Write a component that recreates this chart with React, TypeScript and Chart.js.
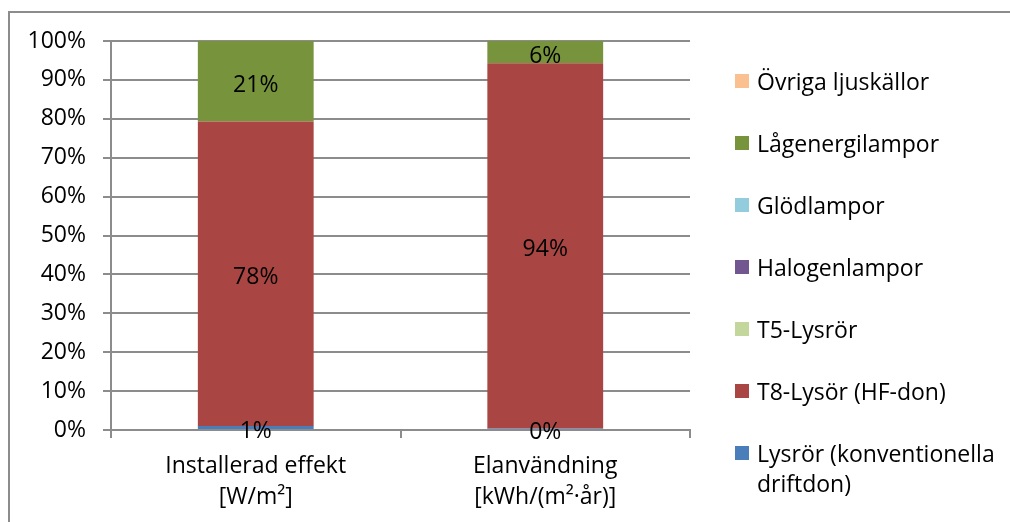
import React, { useEffect, useRef } from 'react';
import { Chart, registerables } from 'chart.js';

Chart.register(...registerables);

// ---- data ----
const categories: string[][] = [
  ['Installerad effekt', '[W/m²]'],
  ['Elanvändning', '[kWh/(m²·år)]'],
];
const seriesNames = [
  'Lysrör (konventionella driftdon)',
  'T8-Lysör (HF-don)',
  'T5-Lysrör',
  'Halogenlampor',
  'Glödlampor',
  'Lågenergilampor',
  'Övriga ljuskällor',
];
const lysror = [1.0, 0.4];
const t8 = [78.3, 93.9];
const t5 = [0, 0];
const halogen = [0, 0];
const glod = [0, 0];
const lagenergi = [20.7, 5.7];
const ovriga = [0, 0];
const seriesValues = [lysror, t8, t5, halogen, glod, lagenergi, ovriga];
const seriesColors = ['#4A7EBB', '#A94643', '#C3D69B', '#72568F', '#93CDDD', '#77933C', '#FAC090'];
const yTicks = [0, 10, 20, 30, 40, 50, 60, 70, 80, 90, 100];

const FONT = "'Open Sans', 'DejaVu Sans', sans-serif";
const FS = 23;
const GRID = '#8c8c8c';

const dataLabelPlugin = {
  id: 'segLabels',
  afterDatasetsDraw(chart: any) {
    const ctx = chart.ctx;
    ctx.save();
    ctx.font = `${FS}px ${FONT}`;
    ctx.fillStyle = '#000';
    ctx.textAlign = 'center';
    ctx.textBaseline = 'middle';
    chart.data.datasets.forEach((ds: any, di: number) => {
      const meta = chart.getDatasetMeta(di);
      ds.data.forEach((v: number, i: number) => {
        if (!(v > 0)) return;
        const el = meta.data[i];
        const y = (el.y + el.base) / 2 + 4;
        ctx.fillText(Math.round(v) + '%', el.x, y);
      });
    });
    ctx.restore();
  },
};

export default function App() {
  const ref = useRef<HTMLCanvasElement | null>(null);

  useEffect(() => {
    if (!ref.current) return;
    const chart = new Chart(ref.current, {
      type: 'bar',
      data: {
        labels: categories as any,
        datasets: seriesNames.map((name, i) => ({
          label: name,
          data: seriesValues[i],
          backgroundColor: seriesColors[i],
          borderWidth: 0,
          barPercentage: 1,
          categoryPercentage: 0.4,
        })),
      },
      options: {
        responsive: false,
        animation: false,
        events: [],
        layout: { padding: { top: 41, right: 320, bottom: 0, left: 0 } },
        plugins: {
          legend: { display: false },
          tooltip: { enabled: false },
          title: { display: false },
        },
        scales: {
          x: {
            stacked: true,
            afterFit: (s: any) => { s.height = 92; },
            grid: {
              display: true,
              drawOnChartArea: false,
              drawTicks: true,
              tickLength: 8,
              color: GRID,
              lineWidth: 2,
              offset: true,
            },
            border: { display: true, color: GRID, width: 2 },
            ticks: {
              color: '#000',
              padding: 13,
              font: { family: FONT, size: FS, lineHeight: 1.35 },
              maxRotation: 0,
              autoSkip: false,
            },
          },
          y: {
            stacked: true,
            min: 0,
            max: 100,
            afterFit: (s: any) => { s.width = 111; },
            afterBuildTicks: (s: any) => { s.ticks = yTicks.map((v) => ({ value: v })); },
            grid: {
              color: GRID,
              lineWidth: 2,
              drawTicks: true,
              tickLength: 8,
            },
            border: { display: true, color: GRID, width: 2 },
            ticks: {
              color: '#000',
              padding: 17,
              font: { family: FONT, size: FS },
              callback: (v: any) => v + '%',
            },
          },
        },
      },
      plugins: [dataLabelPlugin],
    });
    return () => chart.destroy();
  }, []);

  const legendOrder = seriesNames.map((n, i) => ({ name: n, color: seriesColors[i] })).reverse();

  return (
    <div style={{ position: 'absolute', left: 0, top: 0, width: 1010, height: 522, overflow: 'hidden', background: '#fff' }}>
      <div
        style={{
          position: 'absolute', left: 8, top: 11, width: 1100, height: 600,
          borderTop: `2px solid ${GRID}`, borderLeft: `2px solid ${GRID}`, boxSizing: 'border-box',
        }}
      />
      <canvas ref={ref} width={1010} height={522} style={{ position: 'absolute', left: 0, top: 0 }} />
      <div style={{ position: 'absolute', left: 735, top: 66, width: 275, fontFamily: FONT, fontSize: FS, color: '#000' }}>
        {legendOrder.map((it) => (
          <div key={it.name} style={{ display: 'flex', alignItems: 'flex-start', marginBottom: 32 }}>
            <div style={{ width: 14, height: 14, marginTop: 8, background: it.color, flex: '0 0 auto' }} />
            <div style={{ marginLeft: 8, lineHeight: '30px', width: 250 }}>{it.name}</div>
          </div>
        ))}
      </div>
    </div>
  );
}
